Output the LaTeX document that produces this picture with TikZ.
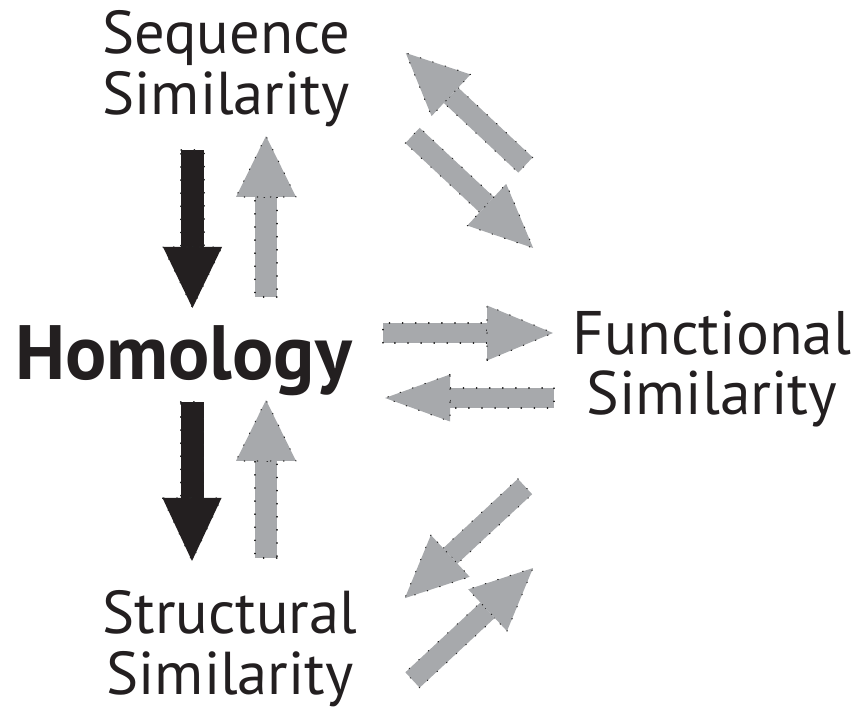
\documentclass[tikz,border=0pt]{standalone}
\usepackage{fontspec}
\setmainfont{PT Sans}
\definecolor{arrowgray}{HTML}{A7A9AC}
\definecolor{inkblack}{HTML}{231F20}
\begin{document}
\begin{tikzpicture}[x=1pt,y=1pt,
  % block arrow along +x: #1 total length, #2 shaft half width,
  % #3 head half width, #4 head length
  pics/blockarrow/.style n args={4}{code={
    \path[pic actions] (0,{-#2}) rectangle ({#1-#4},{#2});
    \path[pic actions] ({#1-#4},{-#3}) -- (#1,0) -- ({#1-#4},{#3}) -- cycle;
  }},
  dotedge/.style={draw=black!85, line width=1.1pt, line cap=round, dash pattern=on 0.6pt off 12.5pt},
  grayarrow/.style={fill=arrowgray, dotedge},
  darkarrow/.style={fill=inkblack, dotedge},
  caption/.style={font=\fontsize{60.5}{61}\selectfont, text=inkblack, align=center, inner sep=0pt},
]
\useasboundingbox (0,0) rectangle (856,712);

% labels
\node[caption] (seq) at (226,643) {Sequence\\Similarity};
\node[caption, font=\fontsize{77}{77}\bfseries\selectfont, anchor=base] (hom) at (183.5,332) {Homology};
\node[caption, font=\fontsize{61.5}{60}\selectfont] (func) at (712,343) {Functional\\Similarity};
\node[caption] (struct) at (230,63) {Structural\\Similarity};

% Sequence <-> Homology
\pic[darkarrow, rotate=-90] at (192.5,562) {blockarrow={158}{11.5}{29.5}{61}};
\pic[grayarrow, rotate=90] at (266,415) {blockarrow={161}{11}{30}{61}};

% Homology <-> Structure
\pic[darkarrow, rotate=-90] at (192,310) {blockarrow={159}{11.5}{29.5}{63}};
\pic[grayarrow, rotate=90] at (266,154) {blockarrow={158}{11}{30}{61}};

% Homology <-> Function
\pic[grayarrow, rotate=0] at (383,379) {blockarrow={170}{10}{27.5}{66}};
\pic[grayarrow, rotate=180] at (554,314) {blockarrow={169}{10}{23.5}{65}};

% Sequence <-> Function
\pic[grayarrow, rotate=136.9] at (525.5,547) {blockarrow={164}{10.5}{28.5}{62}};
\pic[grayarrow, rotate=-43.0] at (412.5,576.5) {blockarrow={165}{10.5}{28.5}{63.5}};

% Structure <-> Function
\pic[grayarrow, rotate=-137.1] at (525,225.5) {blockarrow={164}{10.5}{28.5}{62}};
\pic[grayarrow, rotate=42.9] at (412.5,32) {blockarrow={164.5}{10.5}{28.5}{62}};
\end{tikzpicture}
\end{document}
